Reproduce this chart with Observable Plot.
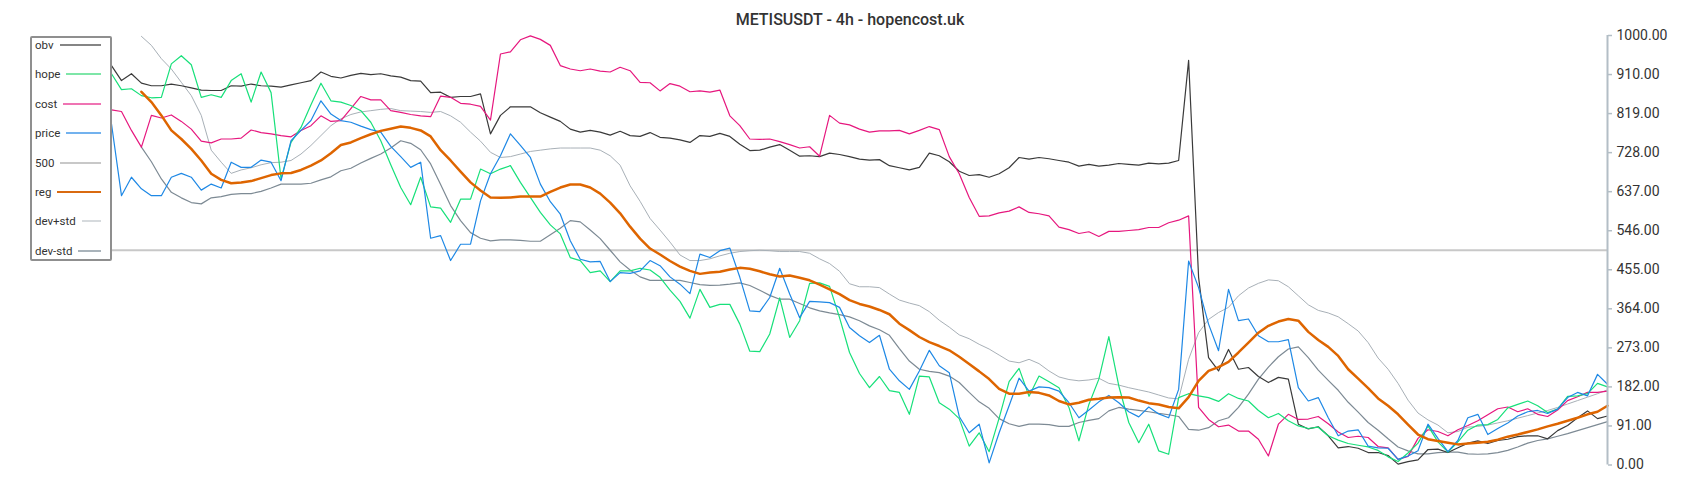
<!DOCTYPE html>
<html><head><meta charset="utf-8">
<script src="https://cdn.jsdelivr.net/npm/d3@7"></script>
<script src="https://cdn.jsdelivr.net/npm/@observablehq/plot@0.6"></script>
<style>
body{margin:0;background:#fff;font-family:Roboto,sans-serif;}
#wrap{position:relative;width:1700px;height:500px;overflow:hidden;}
#title{position:absolute;left:0;top:10px;width:1700px;text-align:center;font:500 16px/20px Roboto,sans-serif;color:#333;}
#legend{position:absolute;left:30px;top:36px;width:78px;height:221px;border:2px solid #8f8f8f;border-radius:2px;background:#fff;}
.row{position:absolute;left:3px;right:9px;height:16px;display:flex;align-items:center;font:11.5px Roboto,sans-serif;color:#333;white-space:nowrap;}
.row .sw{flex:1;margin-left:6px;}
</style></head>
<body><div id="wrap"><div id="chart"></div><div id="title"></div><div id="legend"></div></div>
<script>
const titleText = "METISUSDT - 4h - hopencost.uk";
const seriesNames = ["obv","hope","cost","price","500","reg","dev+std","dev-std"];
const yTicks = [0, 90.91, 181.82, 272.73, 363.64, 454.55, 545.45, 636.36, 727.27, 818.18, 909.09, 1000];
const yTickLabels = ["0.00","91.00","182.00","273.00","364.00","455.00","546.00","637.00","728.00","819.00","910.00","1000.00"];
const level500 = 500;

const obv = [930,895,911,889,883,883,887,883,878,873, 872,872,883,882,887,883,882,880,885,890, 895,915,905,901,907,912,909,911,906,903, 895,894,867,868,856,858,858,864,771,814, 834,834,834,820,810,800,782,775,779,775, 768,777,767,765,774,763,761,757,751,767, 765,772,765,747,732,733,740,746,733,719, 720,718,726,723,718,712,710,711,697,692, 687,693,726,720,706,684,674,676,670,678, 692,716,712,716,713,709,705,696,700,696, 698,702,700,698,703,701,703,709,942,437, 250,219,269,223,227,206,192,204,200,95, 84,89,68,40,43,39,29,29,22,2, 8,12,36,37,29,40,51,56,50,57, 60,66,68,68,61,80,92,110,126,108, 114];
const hope = [911,874,876,860,855,856,934,953,932,856, 862,856,895,911,845,915,867,666,751,786, 839,889,848,845,837,825,798,755,699,646, 606,670,601,598,565,619,619,689,678,689, 697,658,623,588,559,538,483,476,448,452, 427,452,452,458,454,437,407,381,342,409, 367,374,374,328,265,264,305,389,297,336, 423,424,416,343,262,213,180,206,173,169, 118,207,205,145,130,108,44,75,31,109, 194,225,160,207,194,180,134,56,141,200, 299,184,99,52,95,33,25,157,166,161, 157,148,166,155,149,127,110,120,103,91, 85,88,68,58,50,46,42,34,19,8, 28,51,91,54,30,54,81,93,94,106, 133,141,149,138,122,130,160,161,166,190, 182];
const cost = [827,823,779,740,814,808,815,800,782,754, 750,759,759,761,780,774,771,767,764,779, 790,813,800,802,830,858,850,850,825,821, 816,813,811,859,856,842,840,835,803,957, 962,990,999,991,977,930,922,918,922,917, 915,926,918,891,890,871,888,882,869,871, 868,873,813,790,759,758,759,753,746,738, 741,719,814,796,792,782,775,778,778,779, 771,779,788,781,718,678,623,579,580,587, 591,601,588,585,580,554,548,539,543,532, 544,544,546,548,553,553,564,570,580,134, 106,89,93,79,79,60,21,95,118,106, 107,113,96,77,64,67,64,43,40,13, 20,62,82,78,68,82,92,103,117,131, 135,124,131,118,113,128,150,159,169,169, 172];
const price = [794,627,670,643,627,627,670,679,670,640, 654,645,705,693,693,710,705,662,755,779, 802,848,817,802,798,789,781,775,742,718, 693,705,528,534,476,514,514,615,678,720, 771,744,716,654,613,584,522,479,473,474, 427,448,446,452,476,464,438,421,399,491, 483,499,505,437,359,357,390,458,398,343, 381,380,378,367,320,301,285,302,223,196, 176,219,267,231,215,113,75,95,5,75, 138,202,172,182,180,172,145,110,128,147, 162,145,124,112,135,119,110,176,475,413, 328,266,409,336,340,301,287,287,292,180, 149,157,110,68,79,82,44,40,39,13, 21,33,95,62,31,57,110,118,71,85, 98,114,124,127,120,130,157,169,161,211, 188];
const devPlus = [null,null,null,998,977,946,922,891,860,814, 733,705,679,687,692,699,704,705,709,724, 744,767,790,806,816,822,825,828,830,825, 824,823,821,823,813,798,775,754,728,716, 718,724,730,733,736,738,738,738,738,733, 720,698,650,614,574,547,519,489,476,476, 480,487,493,497,499,500,499,497,497,497, 493,480,469,451,422,415,415,413,398,384, 377,371,357,337,321,303,294,281,270,256, 242,238,246,236,219,205,199,196,198,202, 190,186,180,175,170,163,156,154,246,308, 339,355,367,394,412,423,431,429,415,394, 373,360,354,345,329,312,285,249,223,190, 151,121,105,93,75,78,88,90,93,98, 103,109,115,121,127,134,142,150,158,166, 175];
const devMinus = [null,null,null,740,706,666,635,622,611,608, 622,625,630,632,632,637,645,654,654,654, 656,664,671,685,691,703,714,724,738,755, 749,734,701,653,604,569,541,528,522,524, 524,523,521,521,536,551,569,566,547,527, 500,473,454,438,430,430,430,430,425,420, 418,419,421,424,418,407,395,386,386,376, 366,359,354,350,345,336,324,315,302,271, 242,223,218,215,207,192,169,147,132,108, 96,90,95,95,94,90,90,99,104,108, 126,134,130,127,124,120,117,113,83,81, 87,103,110,134,165,200,228,252,270,275, 250,221,197,174,146,123,99,81,61,42, 33,26,26,29,30,30,26,25,26,29, 34,42,51,57,61,67,73,80,87,94, 101];
const reg = [null,null,null,869,845,814,779,759,736,709, 678,664,656,658,661,668,675,679,680,687, 697,709,726,745,751,761,770,778,783,788, 785,779,765,733,709,683,658,639,623,622, 623,625,625,625,636,646,653,653,646,632, 611,586,555,527,504,490,475,462,452,445, 448,450,455,459,457,451,444,439,441,436, 430,420,409,398,384,375,369,361,351,329, 314,298,286,277,267,252,235,218,200,177, 166,166,170,168,162,149,141,145,152,154, 157,158,157,150,144,141,135,132,158,196, 219,228,240,262,285,308,324,334,340,336, 310,291,275,254,223,201,179,155,138,118, 94,71,60,56,52,48,50,52,54,59, 66,71,77,83,90,96,103,110,118,124, 138];

const style = {
  "obv":     {stroke:"#3a3a3a", w:1.2, legend:"#858585", lw:2},
  "hope":    {stroke:"#17e07a", w:1.2, legend:"#7ee6a8", lw:2},
  "cost":    {stroke:"#e6177e", w:1.2, legend:"#ef74b3", lw:2},
  "price":   {stroke:"#1e88e5", w:1.2, legend:"#73b2ee", lw:2},
  "500":     {stroke:"#c8c8c8", w:2,   legend:"#c8c8c8", lw:2},
  "reg":     {stroke:"#de6500", w:2.5, legend:"#d96a10", lw:2.5},
  "dev+std": {stroke:"#a8b0b7", w:1,   legend:"#d6dadd", lw:2},
  "dev-std": {stroke:"#7d8a94", w:1.2, legend:"#a9b3ba", lw:2}
};

const seriesData = {"obv":obv,"hope":hope,"cost":cost,"price":price,"reg":reg,"dev+std":devPlus,"dev-std":devMinus};
const toRows = arr => arr.map((v,i)=>({i, v})).filter(d => d.v != null);
const lineMark = name => Plot.line(toRows(seriesData[name]), {x:"i", y:"v", stroke: style[name].stroke, strokeWidth: style[name].w, strokeLinejoin:"round"});
const lastIndex = obv.length - 1;

const chart = Plot.plot({
  width: 1700, height: 500,
  marginLeft: 111, marginRight: 93, marginTop: 35, marginBottom: 35.5,
  x: {domain: [0, lastIndex], axis: null},
  y: {domain: [0, 1000], axis: null},
  style: {fontFamily: "Roboto, sans-serif", color: "#333", background: "#fff"},
  marks: [
    Plot.ruleY([level500], {stroke: style["500"].stroke, strokeWidth: style["500"].w}),
    lineMark("dev+std"),
    lineMark("dev-std"),
    lineMark("obv"),
    lineMark("cost"),
    lineMark("hope"),
    lineMark("price"),
    lineMark("reg"),
    Plot.ruleX([lastIndex], {y1: 0, y2: 1000, stroke: "#b3bec6", strokeWidth: 2}),
    Plot.axisY(yTicks, {anchor: "right", label: null, tickFormat: d => yTickLabels[yTicks.indexOf(d)], tickSize: 4, tickPadding: 5, fontSize: 14, stroke: "#b3bec6", strokeWidth: 1.5, fill: "#333"})
  ]
});
document.getElementById("chart").appendChild(chart);
document.getElementById("title").textContent = titleText;

const legend = document.getElementById("legend");
seriesNames.forEach((name, k) => {
  const row = document.createElement("div");
  row.className = "row";
  row.style.top = (-1 + 29.4 * k) + "px";
  const label = document.createElement("span");
  label.textContent = name;
  const sw = document.createElement("span");
  sw.className = "sw";
  sw.style.height = style[name].lw + "px";
  sw.style.background = style[name].legend;
  row.appendChild(label); row.appendChild(sw);
  legend.appendChild(row);
});
</script></body></html>
